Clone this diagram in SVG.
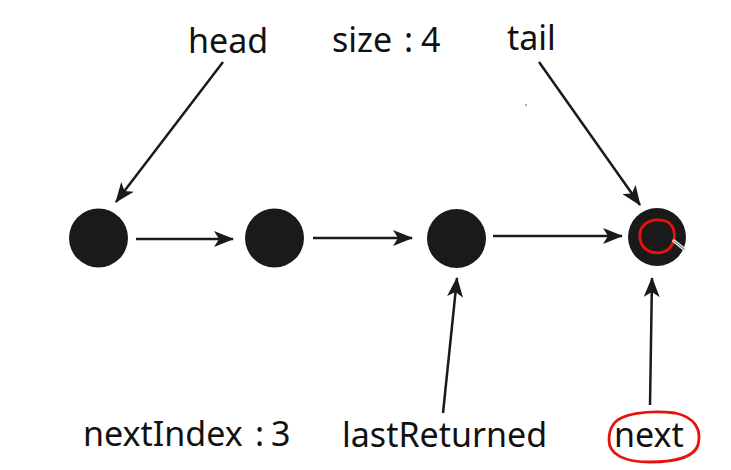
<svg xmlns="http://www.w3.org/2000/svg" width="731" height="470" viewBox="0 0 731 470">
<style>
.lbl{font-family:"Noto Sans","Open Sans","Liberation Sans",sans-serif;font-size:34px;fill:#111;}
.node{fill:#1a1a1a;}
.edge{stroke:#1a1a1a;stroke-width:2.5;fill:none;marker-end:url(#ah);}
.red{stroke:#e8120c;stroke-width:2.8;fill:none;}
</style>
<defs>
<marker id="ah" markerUnits="userSpaceOnUse" viewBox="0 0 20 16" refX="19" refY="8" markerWidth="20" markerHeight="16" orient="auto">
<path d="M0,0 L20,8 L0,16 L5,8 z" fill="#1a1a1a"/>
</marker>
</defs>
<rect width="731" height="470" fill="#ffffff"/>
<g id="connectors">
<line class="edge" x1="136" y1="239" x2="233" y2="239"/>
<line class="edge" x1="313" y1="238" x2="412" y2="238"/>
<line class="edge" x1="493" y1="236" x2="622" y2="236"/>
<line class="edge" x1="223" y1="62" x2="116" y2="202"/>
<line class="edge" x1="539" y1="62" x2="640" y2="205"/>
<line class="edge" x1="443" y1="413" x2="457" y2="278"/>
<line class="edge" x1="650" y1="405" x2="652" y2="278"/>
</g>
<g id="n1"><circle class="node" cx="98.5" cy="238" r="29.5"/></g>
<g id="n2"><circle class="node" cx="274.5" cy="238" r="29.5"/></g>
<g id="n3"><circle class="node" cx="456.5" cy="238.5" r="29.5"/></g>
<g id="n4"><circle class="node" cx="657" cy="237" r="29"/>
<path class="red" d="M644,225 C651,218 667,218 672,226 C677,235 674,249 663,252 C651,255 641,249 640,238 C639,232 641,228 644,225 Z"/>
<line x1="674" y1="241" x2="684" y2="249" stroke="#eeeeee" stroke-width="3.5" stroke-linecap="round"/>
<line x1="674" y1="241" x2="684" y2="249" stroke="#555" stroke-width="1" stroke-linecap="round"/>
</g>
<g id="head"><text class="lbl" x="188" y="53">head</text></g>
<g id="size"><text class="lbl" y="52"><tspan x="332">size</tspan><tspan x="404">:</tspan><tspan x="421">4</tspan></text></g>
<g id="tail"><text class="lbl" x="507" y="50">tail</text></g>
<g id="nextIndex"><text class="lbl" y="446"><tspan x="83">nextIndex</tspan><tspan x="255">:</tspan><tspan x="271">3</tspan></text></g>
<g id="lastReturned"><text class="lbl" x="342" y="447">lastReturned</text></g>
<g id="next"><text class="lbl" x="614" y="447">next</text>
<path class="red" d="M613,425 C620,413 650,410 675,413 C695,417 702,430 698,445 C694,458 672,462 650,462 C625,462 609,455 609,440 C609,433 610,429 613,425 Z"/>
</g>
<circle cx="526" cy="105" r="0.8" fill="#2233ff"/>
</svg>
